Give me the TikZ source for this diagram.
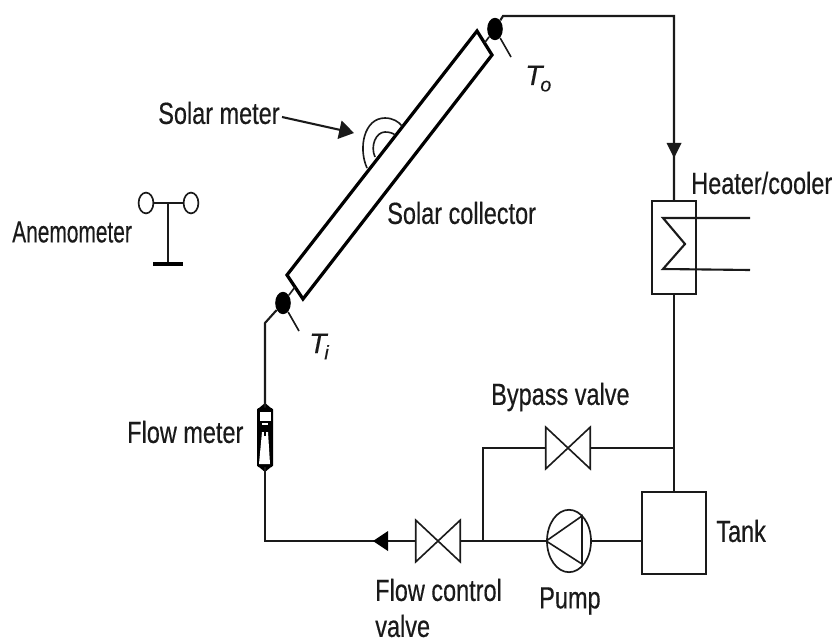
\documentclass[tikz,border=0pt]{standalone}
\usepackage{fontspec}
\setmainfont{Liberation Sans}[RawFeature={embolden=0.5}]
\usepackage{xcolor}
\usetikzlibrary{arrows.meta,shapes.geometric,calc}
\definecolor{linedark}{HTML}{1A1A1A}
\newcommand{\tempsub}[1]{\kern-1.5pt\raisebox{-4.5pt}{\fontsize{14}{17}\selectfont #1}}
\tikzset{
  pipe/.style={draw=linedark, line width=1.5pt},
  thinpipe/.style={draw=linedark, line width=1.15pt},
  valve/.style={inner sep=0pt, minimum width=11mm, minimum height=10.3mm},
  pump/.style={ellipse, draw=linedark, line width=1.2pt, inner sep=0pt, minimum width=11mm, minimum height=15.6mm},
  vessel/.style={draw=linedark, line width=1.3pt, inner sep=0pt},
  sensor/.style={ellipse, fill=black, inner sep=0pt, minimum width=3.9mm, minimum height=5.6mm},
  cup/.style={ellipse, draw=linedark, line width=1.2pt, fill=white, inner sep=0pt, minimum width=3.7mm, minimum height=5.2mm},
  caption/.style={anchor=west, inner sep=0pt, text=linedark, font=\fontsize{16.7}{20}\selectfont, yscale=1.3},
  templabel/.style={anchor=base west, inner sep=0pt, text=linedark, font=\fontsize{20}{24}\selectfont\itshape}
}
\begin{document}
\begin{tikzpicture}[x=0.25mm, y=-0.25mm]
  \useasboundingbox (0,0) rectangle (837,642);

  % collector
  \coordinate (c1) at (477,31);
  \coordinate (c2) at (492,55);
  \coordinate (c3) at (303,299);
  \coordinate (c4) at (287,275);
  \draw[draw=black, line width=2.3pt, line join=miter] (c1) -- (c2) -- (c3) -- (c4) -- cycle;
  \node[sensor] (to) at (495,29) {};
  \node[sensor] (ti) at (283,303) {};
  \draw[thinpipe] (to) -- ($(c1)!0.5!(c2)$);
  \draw[thinpipe] (ti) -- ($(c3)!0.5!(c4)$);
  \coordinate (totag) at (511,57);
  \coordinate (titag) at (299,331);
  \draw[thinpipe] (to) -- (totag);
  \draw[thinpipe] (ti) -- (titag);
  \node[templabel] (tolabel) at (525,85) {T\tempsub{o}};
  \node[templabel] (tilabel) at (309,353) {T\tempsub{i}};

  % solar meter
  \draw[thinpipe] (367,168) .. controls (358,148) and (364,118) .. (385,118) .. controls (393,118) and (399,122) .. (402,126);
  \draw[thinpipe] (375,157) .. controls (370,146) and (376,132) .. (385,132) .. controls (389,132) and (393,133) .. (395,135);
  \node[caption] (meterlabel) at (158,113) {Solar meter};
  \coordinate (meterend) at (354,133);
  \draw[pipe, -{Triangle[length=3.7mm, width=4.6mm]}] (282,117) -- (meterend);
  \node[caption] (collectorlabel) at (387,213) {Solar collector};

  % anemometer
  \node[caption, xscale=0.89] (anemolabel) at (12,232) {Anemometer};
  \node[cup] (cupl) at (146,203) {};
  \node[cup] (cupr) at (191,203) {};
  \coordinate (stemtop) at (168,203);
  \coordinate (stembase) at (168,264);
  \draw[thinpipe] (cupl) -- (cupr);
  \draw[pipe] (stemtop) -- (stembase);
  \draw[draw=black, line width=3pt] (153,264) -- (183,264);

  % heater loop
  \node[vessel, minimum width=11mm, minimum height=23.25mm] (heater) at (674,247.5) {};
  \node[caption] (heaterlabel) at (691,183) {Heater/cooler};
  \coordinate (corner1) at (503,16);
  \coordinate (corner2) at (674,16);
  \draw[pipe] (to) -- (corner1) -- (corner2) -- (heater.north);
  \fill[linedark] (666.5,143) -- (681.5,143) -- (674,158) -- cycle;
  \draw[pipe] (750,218) -- (663,218) -- (685,244) -- (663,269) -- (750,270);

  % lower circuit
  \node[vessel, minimum width=16mm, minimum height=20.5mm] (tank) at (674,533) {};
  \node[caption] (tanklabel) at (716,531) {Tank};
  \node[pump] (pumpa) at (569,541) {};
  \node[caption] (pumplabel) at (539,601) {Pump};
  \node[valve] (bypass) at (568,448) {};
  \node[caption] (bypasslabel) at (491,397) {Bypass valve};
  \node[valve] (control) at (438,541) {};
  \node[caption] (controllabel) at (375,590) {Flow control};
  \node[caption] (controllabelb) at (375,626) {valve};
  \draw[thinpipe] (bypass.north west) -- (bypass.south east) -- (bypass.north east) -- (bypass.south west) -- cycle;
  \draw[thinpipe] (control.north west) -- (control.south east) -- (control.north east) -- (control.south west) -- cycle;
  \draw[thinpipe] (pumpa.west) -- (582,516) -- (582,564) -- cycle;
  \coordinate (bend) at (674,448);
  \coordinate (split) at (483,541);
  \coordinate (splittop) at (483,448);
  \draw[pipe] (heater.south) -- (tank.north);
  \draw[pipe] (bend) -- (bypass.east);
  \draw[pipe] (bypass.west) -- (splittop) -- (split);
  \draw[pipe] (tank.west |- pumpa) -- (pumpa.east);
  \draw[pipe] (pumpa.west) -- (split) -- (control.east |- split);

  % flow meter
  \node[inner sep=0pt, minimum width=4mm, minimum height=14.75mm, fill=black, rounded corners=1pt] (flow) at (265,437.5) {};
  \node[caption] (flowlabel) at (127,432) {Flow meter};
  \fill[black] (259,408) -- (265,403) -- (271,408) -- cycle;
  \fill[black] (259,467) -- (265,472) -- (271,467) -- cycle;
  \fill[white] (260,412) rectangle (271,421);
  \fill[white] (262,423) rectangle (268,425);
  \fill[white] (262,432) -- (268,432) -- (270,464) -- (259,464) -- cycle;
  \fill[black] (264,432) rectangle (266,436);
  \coordinate (bendb) at (265,541);
  \coordinate (bendc) at (265,323);
  \coordinate (arrowend) at (373,541);
  \draw[pipe, line width=2pt] (control.west) -- (arrowend);
  \fill[black] (388,531) -- (388,551) -- (373,541) -- cycle;
  \draw[pipe] (arrowend) -- (bendb) -- (flow.south);
  \draw[pipe] (flow.north) -- (bendc) -- (ti);
\end{tikzpicture}
\end{document}
